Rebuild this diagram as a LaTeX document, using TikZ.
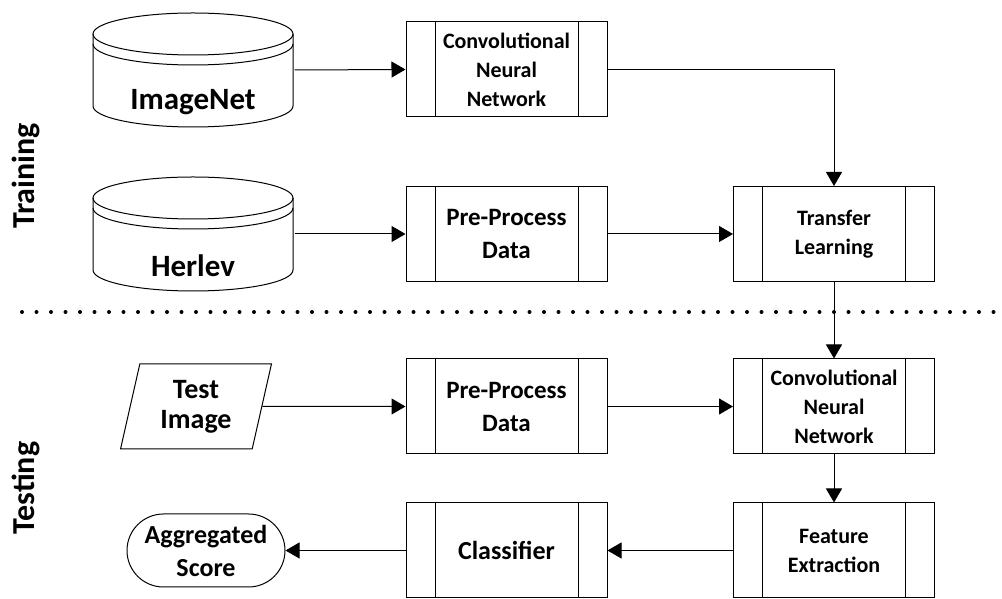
\documentclass[tikz,border=0pt]{standalone}
\usepackage{fontspec}
\setmainfont{Carlito}
\usepackage{tikz}
\usetikzlibrary{arrows.meta,shapes.geometric,shapes.misc}

\begin{document}
\begin{tikzpicture}[x=1pt,y=1pt,line width=1.0pt,
    >={Triangle[length=14pt,width=16pt]},
    proc/.style={draw, minimum width=201pt, minimum height=95pt, inner sep=0pt, align=center,
        font=\fontsize{22}{29}\selectfont\bfseries,
        path picture={
            \draw ([xshift=29pt]path picture bounding box.north west) -- ([xshift=29pt]path picture bounding box.south west);
            \draw ([xshift=-29pt]path picture bounding box.north east) -- ([xshift=-29pt]path picture bounding box.south east);
        }},
    bigproc/.style={proc, font=\fontsize{25}{33}\selectfont\bfseries},
    db/.style={minimum width=202pt, minimum height=116pt, inner sep=0pt,
        path picture={
            \draw ([shift={(-100pt,36pt)}]path picture bounding box.center) -- ++(0,-72pt)
                arc[start angle=180,end angle=360,x radius=100pt,y radius=21pt] -- ++(0,72pt);
            \draw ([yshift=36pt]path picture bounding box.center) ellipse [x radius=100pt,y radius=21pt];
            \draw ([shift={(-100pt,26pt)}]path picture bounding box.center)
                arc[start angle=180,end angle=360,x radius=100pt,y radius=21pt];
        }},
    dbtext/.style={font=\fontsize{31}{36}\selectfont\bfseries, yshift=-32pt},
    side/.style={rotate=90, font=\fontsize{32}{36}\selectfont\bfseries},
    ]
\useasboundingbox (0,0) rectangle (1002,599);
%
\node[side] (trainlbl) at (26,423) {Training};
\node[side] (testlbl) at (26,111) {Testing};
%%%%%%%%%%%%%%%%%%%%%%%%%%%%%%%%%%%%%
% training
\node[db, label={[dbtext]center:ImageNet}] (imagenet) at (193,529) {};
\node[db, label={[dbtext]center:Herlev}] (herlev) at (193,365) {};
\node[proc] (cnnA) at (506.5,529.5) {Convolutional\\Neural\\Network};
\node[bigproc] (prepA) at (506.5,365) {Pre-Process\\Data};
\node[proc] (transfer) at (834,365) {Transfer\\Learning};
\draw[->] (imagenet.east) -- (cnnA.west);
\draw[->] (cnnA.east) -| (transfer.north);
\draw[->] (herlev.east) -- (prepA.west);
\draw[->] (prepA.east) -- (transfer.west);
%%%%%%%%%%%%%%%%%%%%%%%%%%%%%%%%%%%%%
\draw[line width=4pt, line cap=round, dash pattern=on 0pt off 14.5pt] (22,287) -- (1000,287);
%%%%%%%%%%%%%%%%%%%%%%%%%%%%%%%%%%%%%
% testing
\node[draw, trapezium, trapezium left angle=77, trapezium right angle=103, trapezium stretches=true,
    minimum width=152pt, minimum height=85pt, inner sep=0pt, align=center,
    font=\fontsize{28}{30}\selectfont\bfseries] (testimg) at (196,192.5) {Test\\Image};
\node[bigproc] (prepB) at (506.5,192.5) {Pre-Process\\Data};
\node[proc] (cnnB) at (834,192.5) {Convolutional\\Neural\\Network};
\node[proc] (feat) at (834,48.5) {Feature\\Extraction};
\node[proc, font=\fontsize{26}{30}\selectfont\bfseries] (clf) at (506.5,48.5) {Classifier};
\node[draw, rounded rectangle, minimum width=158pt, minimum height=73pt, inner sep=0pt, align=center,
    font=\fontsize{26}{33}\selectfont\bfseries] (aggr) at (206,48.5) {Aggregated\\Score};
\draw[->] (transfer.south) -- (cnnB.north);
\draw[->] (testimg.east) -- (prepB.west);
\draw[->] (prepB.east) -- (cnnB.west);
\draw[->] (cnnB.south) -- (feat.north);
\draw[->] (feat.west) -- (clf.east);
\draw[->] (clf.west) -- (aggr.east);
\end{tikzpicture}
\end{document}
